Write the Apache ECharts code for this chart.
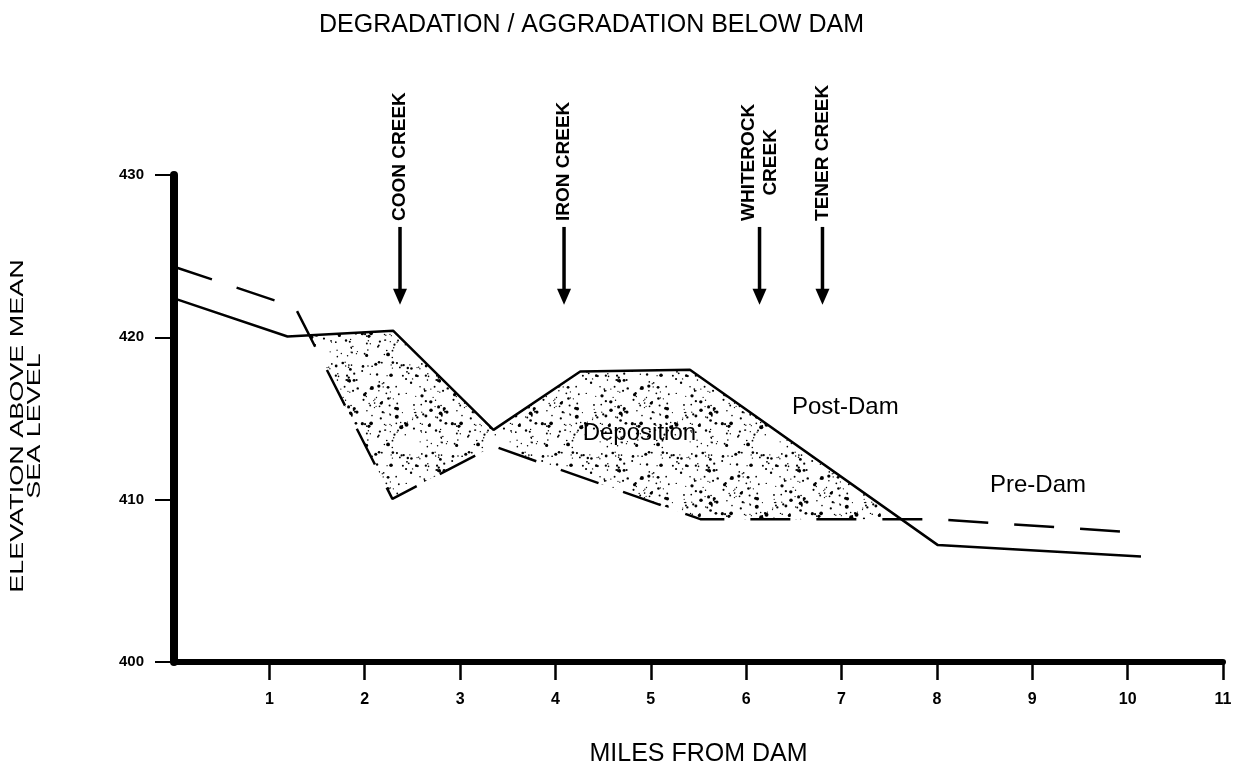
<!DOCTYPE html>
<html>
<head>
<meta charset="utf-8">
<script src="https://cdn.jsdelivr.net/npm/echarts@6/dist/echarts.min.js"></script>
<style>
  html, body { margin: 0; padding: 0; background: #fff; }
  #main { width: 1247px; height: 773px; }
</style>
</head>
<body>
<div id="main"></div>
<script>
// Post-dam bed profile (solid line): miles from dam, elevation
const postDamX = [0, 1.19, 2.30, 3.35, 4.26, 5.41, 8.01, 10.14];
const postDamY = [422.4, 420.05, 420.4, 414.3, 417.9, 418.0, 407.2, 406.5];

// Pre-dam bed profile (dashed line)
const preDamX = [0, 1.27, 2.29, 3.35, 5.52, 7.99, 10.15];
const preDamY = [424.35, 421.85, 410.05, 413.3, 408.8, 408.8, 407.95];

// Tributaries marked with arrows
const creekNames = ['COON CREEK', 'IRON CREEK', 'WHITEROCK\nCREEK', 'TENER CREEK'];
const creekX = [2.37, 4.09, 6.14, 6.80];

// Text annotations inside the plot
const noteNames = ['Deposition', 'Post-Dam', 'Pre-Dam'];
const noteX = [4.88, 7.04, 9.06];
const noteY = [414.1, 415.7, 410.9];

const xTickValues = [1, 2, 3, 4, 5, 6, 7, 8, 9, 10, 11];

const FONT = '"Liberation Sans", Arial, sans-serif';

// linear interpolation along a profile
function interp(xs, ys, x) {
    for (let i = 0; i < xs.length - 1; i++) {
        if (x >= xs[i] && x <= xs[i + 1]) {
            const t = (x - xs[i]) / (xs[i + 1] - xs[i]);
            return ys[i] + t * (ys[i + 1] - ys[i]);
        }
    }
    return ys[ys.length - 1];
}

// Region where post-dam bed is above pre-dam bed (deposition)
function depositionPolygon() {
    const xs = Array.from(new Set(postDamX.concat(preDamX))).sort((a, b) => a - b);
    const post = x => interp(postDamX, postDamY, x);
    const pre = x => interp(preDamX, preDamY, x);
    const d = x => post(x) - pre(x);
    let upper = [], lower = [];
    for (let i = 0; i < xs.length - 1; i++) {
        const a = xs[i], b = xs[i + 1];
        const da = d(a), db = d(b);
        if (da > 0) {
            upper.push([a, post(a)]);
            lower.push([a, pre(a)]);
        }
        if ((da > 0) !== (db > 0)) {
            const xc = a + da / (da - db) * (b - a);
            const pt = [xc, post(xc)];
            upper.push(pt);
            lower.push(pt);
        }
    }
    return upper.concat(lower.reverse());
}
const depoPoly = depositionPolygon();

// stipple texture for the deposition area
function makeStipple() {
    const c = document.createElement('canvas');
    c.width = 90; c.height = 90;
    const ctx = c.getContext('2d');
    let s = 12345;
    const rnd = () => (s = (s * 16807) % 2147483647) / 2147483647;
    ctx.fillStyle = '#000';
    for (let i = 0; i < 210; i++) {
        const x = 2 + rnd() * 86, y = 2 + rnd() * 86;
        const r = 0.6 + rnd() * rnd() * 1.6;
        ctx.beginPath();
        ctx.arc(x, y, r, 0, Math.PI * 2);
        ctx.fill();
    }
    return c;
}
const stipple = makeStipple();

const measureCtx = document.createElement('canvas').getContext('2d');
const creekFont = 'bold 19px ' + FONT;
function textWidth(str, font) {
    measureCtx.font = font;
    return Math.max.apply(null, str.split('\n').map(l => measureCtx.measureText(l).width));
}

var chartDom = document.getElementById('main');
var myChart = echarts.init(chartDom);
var option;

option = {
    animation: false,
    backgroundColor: '#fff',
    textStyle: { fontFamily: FONT, color: '#000' },
    title: {
        text: 'DEGRADATION / AGGRADATION BELOW DAM',
        left: 314,
        top: 8,
        textStyle: { fontSize: 25, fontWeight: 'normal', color: '#000', fontFamily: FONT }
    },
    grid: { left: 174, right: 24, top: 175, bottom: 111 },
    xAxis: {
        type: 'value',
        min: 0,
        max: 11,
        interval: 1,
        name: 'MILES FROM DAM',
        nameLocation: 'middle',
        nameGap: 80,
        nameTextStyle: { fontSize: 25, color: '#000', fontFamily: FONT },
        axisLine: { onZero: false, lineStyle: { color: '#000', width: 6 } },
        axisTick: { customValues: xTickValues, length: 18, lineStyle: { color: '#000', width: 2.5 } },
        axisLabel: { customValues: xTickValues, margin: 30, fontSize: 16, fontWeight: 'bold', color: '#000' },
        splitLine: { show: false }
    },
    yAxis: {
        type: 'value',
        min: 400,
        max: 430,
        interval: 10,
        axisLine: { show: true, onZero: false, lineStyle: { color: '#000', width: 8 } },
        axisTick: { show: true, length: 19, lineStyle: { color: '#000', width: 2 } },
        axisLabel: { margin: 30, fontSize: 15, fontWeight: 'bold', color: '#000' },
        splitLine: { show: false }
    },
    graphic: [{
        type: 'text',
        x: 27,
        y: 426,
        rotation: Math.PI / 2,
        scaleX: 1.5,
        style: {
            text: 'ELEVATION ABOVE MEAN\nSEA LEVEL',
            font: '18px ' + FONT,
            fill: '#000',
            align: 'center',
            verticalAlign: 'middle',
            textAlign: 'center',
            textVerticalAlign: 'middle',
            lineHeight: 17
        }
    }],
    series: [
        {
            name: 'Deposition',
            type: 'custom',
            z: 1,
            data: [depoPoly[0]],
            renderItem: function (params, api) {
                return {
                    type: 'polygon',
                    shape: { points: depoPoly.map(p => api.coord(p)) },
                    style: { fill: { image: stipple, repeat: 'repeat' }, stroke: null }
                };
            }
        },
        {
            name: 'Post-Dam',
            type: 'line',
            z: 3,
            symbol: 'none',
            data: postDamX.map((x, i) => [x, postDamY[i]]),
            lineStyle: { color: '#000', width: 2.5 }
        },
        {
            name: 'Pre-Dam',
            type: 'line',
            z: 3,
            symbol: 'none',
            data: preDamX.map((x, i) => [x, preDamY[i]]),
            lineStyle: { color: '#000', width: 2.5, type: [40, 26] }
        },
        {
            name: 'Creeks',
            type: 'custom',
            z: 4,
            data: creekX.map(x => [x, 426.8]),
            renderItem: function (params, api) {
                const x = api.value(0);
                const top = api.coord([x, api.value(1)]);
                const tip = api.coord([x, 422.0]);
                const name = creekNames[params.dataIndex];
                const w = textWidth(name, creekFont);
                return {
                    type: 'group',
                    children: [
                        {
                            type: 'line',
                            shape: { x1: top[0], y1: top[1], x2: tip[0], y2: tip[1] - 10 },
                            style: { stroke: '#000', lineWidth: 3.5 }
                        },
                        {
                            type: 'polygon',
                            shape: { points: [[tip[0] - 7, tip[1] - 16], [tip[0] + 7, tip[1] - 16], [tip[0], tip[1]]] },
                            style: { fill: '#000' }
                        },
                        {
                            type: 'text',
                            x: top[0],
                            y: top[1] - 6 - w / 2,
                            rotation: Math.PI / 2,
                            style: {
                                text: name,
                                font: creekFont,
                                fill: '#000',
                                align: 'center',
                                verticalAlign: 'middle',
                                textAlign: 'center',
                                textVerticalAlign: 'middle',
                                lineHeight: 22
                            }
                        }
                    ]
                };
            }
        },
        {
            name: 'Notes',
            type: 'custom',
            z: 5,
            data: noteX.map((x, i) => [x, noteY[i]]),
            renderItem: function (params, api) {
                const p = api.coord([api.value(0), api.value(1)]);
                return {
                    type: 'text',
                    x: p[0],
                    y: p[1],
                    style: {
                        text: noteNames[params.dataIndex],
                        font: '24px ' + FONT,
                        fill: '#000',
                        align: 'center',
                        verticalAlign: 'middle',
                        textAlign: 'center',
                        textVerticalAlign: 'middle'
                    }
                };
            }
        }
    ]
};

option && myChart.setOption(option);
</script>
</body>
</html>
